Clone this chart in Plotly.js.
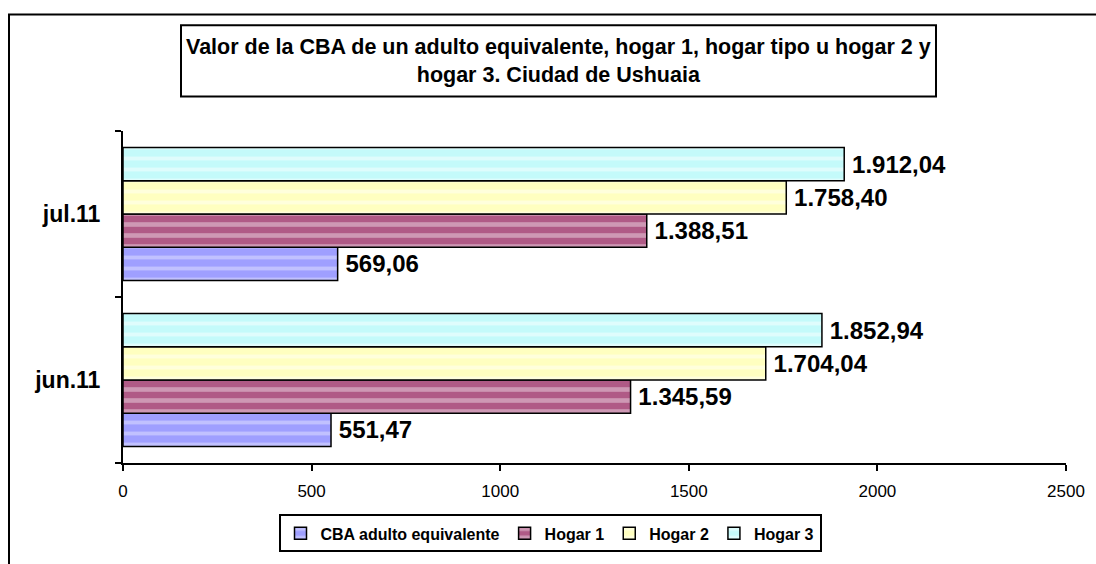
<!DOCTYPE html>
<html>
<head>
<meta charset="utf-8">
<script src="https://cdn.plot.ly/plotly-3.0.1.min.js"></script>
<style>
  html, body { margin: 0; padding: 0; background: #fff; }
  #chart { width: 1096px; height: 564px; }
</style>
</head>
<body>
<div id="chart"></div>
<script>
// ---- data ----
const categories = ['jun.11', 'jul.11'];
const seriesNames = ['CBA adulto equivalente', 'Hogar 1', 'Hogar 2', 'Hogar 3'];
const cbaAdulto = [551.47, 569.06];
const hogar1 = [1345.59, 1388.51];
const hogar2 = [1704.04, 1758.40];
const hogar3 = [1852.94, 1912.04];
const xTicks = [0, 500, 1000, 1500, 2000, 2500];
const titleText = 'Valor de la CBA de un adulto equivalente, hogar 1, hogar tipo u hogar 2 y<br>hogar 3. Ciudad de Ushuaia';

function fmtEs(v) {
  const parts = v.toFixed(2).split('.');
  const intPart = parts[0].replace(/\B(?=(\d{3})+(?!\d))/g, '.');
  return '\u2009' + intPart + ',' + parts[1];
}

const styles = [
  {bg: '#9f9fff', fg: 'rgba(255,255,255,0.7)'},
  {bg: '#b05a86', fg: 'rgba(255,255,255,0.75)'},
  {bg: '#ffffc0', fg: 'rgba(255,255,255,0.9)'},
  {bg: '#c4fafa', fg: 'rgba(255,255,255,0.9)'}
];
const seriesValues = [cbaAdulto, hogar1, hogar2, hogar3];

const traces = seriesValues.map((vals, i) => ({
  type: 'bar',
  orientation: 'h',
  name: seriesNames[i],
  y: categories,
  x: vals,
  text: vals.map(fmtEs),
  textposition: 'outside',
  constraintext: 'none',
  cliponaxis: false,
  textfont: {family: 'Liberation Sans, Arial, sans-serif', size: 24, color: '#000', weight: 'bold'},
  hoverinfo: 'skip',
  marker: {
    color: styles[i].bg,
    line: {color: '#000', width: 1.5},
    pattern: {shape: '-', bgcolor: styles[i].bg, fgcolor: styles[i].fg, fillmode: 'overlay', size: 11, solidity: i === 1 ? 0.42 : 0.35}
  }
}));

const L = 123, R = 1066, T = 131, B = 467;
const W = R - L, H = B - T;
const px = x => (x - L) / W;
const py = y => (B - y) / H;

const layout = {
  width: 1096,
  height: 564,
  margin: {l: L, r: 1096 - R, t: T, b: 564 - B},
  paper_bgcolor: '#fff',
  plot_bgcolor: '#fff',
  barmode: 'group',
  bargap: 0.2,
  bargroupgap: 0,
  showlegend: true,
  font: {family: 'Liberation Sans, Arial, sans-serif', color: '#000'},
  xaxis: {
    range: [0, 2500],
    tickvals: xTicks,
    ticktext: xTicks.map(String),
    showgrid: false,
    zeroline: false,
    showline: true,
    linecolor: '#000',
    linewidth: 2,
    ticks: 'outside',
    ticklen: 6,
    tickwidth: 2,
    tickcolor: '#000',
    ticklabelstandoff: 6,
    tickfont: {size: 17, color: '#000'},
    fixedrange: true
  },
  yaxis: {
    type: 'category',
    categoryorder: 'array',
    categoryarray: categories,
    showgrid: false,
    zeroline: false,
    showline: true,
    linecolor: '#000',
    linewidth: 2,
    ticks: 'outside',
    tickson: 'boundaries',
    ticklen: 6,
    tickwidth: 2,
    tickcolor: '#000',
    ticklabelstandoff: 16,
    tickfont: {size: 23, color: '#000', weight: 'bold'},
    fixedrange: true
  },
  legend: {
    orientation: 'h',
    traceorder: 'normal',
    x: px(550),
    xanchor: 'center',
    y: py(519),
    yanchor: 'top',
    bordercolor: '#000',
    borderwidth: 2,
    bgcolor: '#fff',
    font: {size: 16, color: '#000', weight: 'bold'},
    itemwidth: 30,
    tracegroupgap: 0
  },
  shapes: [
    {type: 'rect', xref: 'paper', yref: 'paper', x0: px(9), x1: px(1110), y0: py(580), y1: py(13),
     line: {color: '#000', width: 2}, fillcolor: 'rgba(0,0,0,0)', layer: 'below'},
    {type: 'rect', xref: 'paper', yref: 'paper', x0: px(181), x1: px(936), y0: py(96), y1: py(24),
     line: {color: '#000', width: 2}, fillcolor: '#fff', layer: 'below'}
  ],
  annotations: [
    {xref: 'paper', yref: 'paper', x: px(558.5), y: py(60), xanchor: 'center', yanchor: 'middle',
     text: '<b>' + titleText + '</b>', showarrow: false, align: 'center',
     font: {size: 21.5, color: '#000'}}
  ]
};

Plotly.newPlot('chart', traces, layout, {displayModeBar: false, staticPlot: true});
</script>
</body>
</html>
